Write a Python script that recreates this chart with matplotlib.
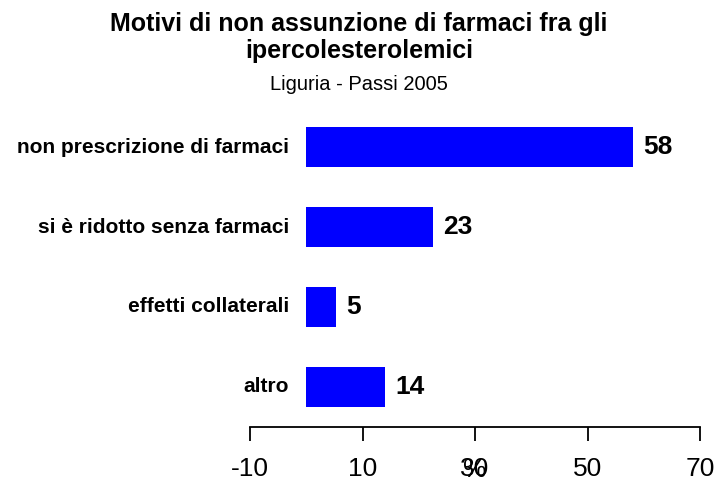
import matplotlib
matplotlib.use("Agg")
import matplotlib.pyplot as plt

plt.rcParams['font.family'] = ['Liberation Sans', 'DejaVu Sans']

# dati
categorie = ["non prescrizione di farmaci", "si è ridotto senza farmaci",
             "effetti collaterali", "altro"]
valori = [58.1, 22.6, 5.3, 14.0]
etichette = ["58", "23", "5", "14"]
ticks = [-10, 10, 30, 50, 70]

fig = plt.figure(figsize=(7.18, 4.78), dpi=100)
ax = fig.add_axes([250/718, 1 - 426.5/478, 450/718, 319/478])

pos = list(range(len(categorie)))
ax.barh(pos, valori, height=0.5, color='#0000ff', edgecolor='none')
for i, v in enumerate(valori):
    ax.text(v + 1.8, i, etichette[i], ha='left', va='center',
            fontsize=19, fontweight='bold')
    ax.text(-3, i, categorie[i], ha='right', va='center',
            fontsize=15, fontweight='bold')

ax.set_xlim(-10, 70)
ax.set_ylim(3.5, -0.5)
ax.set_xticks(ticks)
ax.set_xticklabels([str(t) for t in ticks])
ax.tick_params(axis='x', labelsize=19, length=10, width=1.3, pad=12)
ax.set_yticks([])
for s in ['left', 'top', 'right']:
    ax.spines[s].set_visible(False)
ax.spines['bottom'].set_linewidth(1.3)
ax.set_xlabel('%', fontsize=19)
ax.xaxis.set_label_coords(0.5, -0.10)

# titolo
fig.text(0.5, 1 - 24/478, "Motivi di non assunzione di farmaci fra gli",
         ha='center', va='center', fontsize=18, fontweight='bold')
fig.text(0.5, 1 - 51/478, "ipercolesterolemici",
         ha='center', va='center', fontsize=18, fontweight='bold')
fig.text(0.5, 1 - 84/478, "Liguria - Passi 2005", ha='center', va='center', fontsize=14.5)

fig.savefig("out.png", dpi=100)
